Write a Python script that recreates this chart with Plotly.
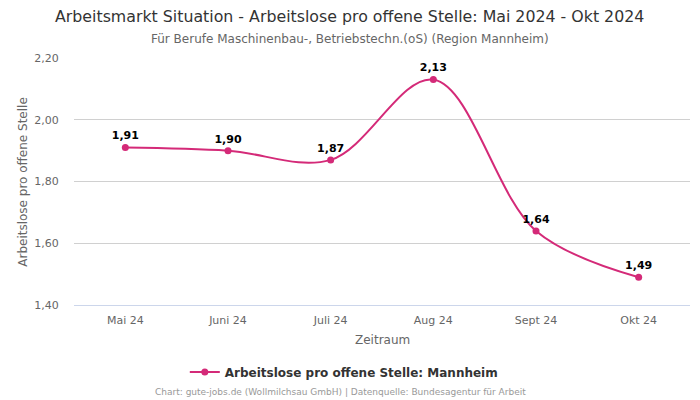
import plotly.graph_objects as go

monate = ["Mai 24", "Juni 24", "Juli 24", "Aug 24", "Sept 24", "Okt 24"]
werte = [1.91, 1.90, 1.87, 2.13, 1.64, 1.49]
beschriftung = ["1,91", "1,90", "1,87", "2,13", "1,64", "1,49"]
y_ticks = [1.4, 1.6, 1.8, 2.0, 2.2]
y_labels = ["1,40", "1,60", "1,80", "2,00", "2,20"]

FARBE = "#d42a78"
FONT = "DejaVu Sans"
MITTE = 0.448  # Seitenmitte in Plot-Koordinaten

fig = go.Figure()
fig.add_trace(go.Scatter(
    x=list(range(len(monate))),
    y=werte,
    mode="lines+markers+text",
    name="Arbeitslose pro offene Stelle: Mannheim",
    line=dict(color=FARBE, width=2, shape="spline", smoothing=1.0),
    marker=dict(size=7, color=FARBE),
    text=beschriftung,
    textposition="top center",
    textfont=dict(family=FONT, size=11, color="#000000", weight="bold"),
    cliponaxis=False,
))

fig.update_layout(
    width=700, height=400,
    plot_bgcolor="white", paper_bgcolor="white",
    font=dict(family=FONT, size=11, color="#666666"),
    margin=dict(l=74, r=10, t=58, b=95, autoexpand=False),
    xaxis=dict(
        tickmode="array", tickvals=list(range(len(monate))), ticktext=monate,
        range=[-0.5, 5.5], showgrid=False, zeroline=False,
        showline=True, linecolor="#ccd6eb", ticks="", automargin=False,
        ticklabelstandoff=5,
    ),
    yaxis=dict(
        tickmode="array", tickvals=y_ticks, ticktext=y_labels,
        range=[1.4, 2.2], showgrid=True, gridcolor="#d0d0d0", zeroline=False,
        automargin=False, ticks="outside", ticklen=12, tickcolor="rgba(0,0,0,0)",
    ),
    showlegend=True,
    legend=dict(
        orientation="h", x=0.438, xanchor="center", y=-0.271, yanchor="middle",
        font=dict(family=FONT, size=12, color="#333333", weight="bold"),
    ),
    annotations=[
        dict(text="Arbeitsmarkt Situation - Arbeitslose pro offene Stelle: Mai 2024 - Okt 2024",
             x=MITTE, xref="paper", y=1.166, yref="paper", xanchor="center", yanchor="middle",
             showarrow=False, font=dict(family=FONT, size=15.8, color="#333333")),
        dict(text="Für Berufe Maschinenbau-, Betriebstechn.(oS) (Region Mannheim)",
             x=MITTE, xref="paper", y=1.077, yref="paper", xanchor="center", yanchor="middle",
             showarrow=False, font=dict(family=FONT, size=12, color="#666666")),
        dict(text="Zeitraum",
             x=0.5, xref="paper", y=-0.142, yref="paper", xanchor="center", yanchor="middle",
             showarrow=False, font=dict(family=FONT, size=12, color="#666666")),
        dict(text="Arbeitslose pro offene Stelle", textangle=-90,
             x=-0.084, xref="paper", y=0.5, yref="paper", xanchor="center", yanchor="middle",
             showarrow=False, font=dict(family=FONT, size=12, color="#666666")),
        dict(text="Chart: gute-jobs.de (Wollmilchsau GmbH) | Datenquelle: Bundesagentur für Arbeit",
             x=0.432, xref="paper", y=-0.352, yref="paper", xanchor="center", yanchor="middle",
             showarrow=False, font=dict(family=FONT, size=9, color="#999999")),
    ],
)

# Seitenrand des Browsers entfernen, damit die Grafik bei (0,0) beginnt
fig.write_html("out.html", config={"displayModeBar": False},
               post_script="document.body.style.margin='0';")
